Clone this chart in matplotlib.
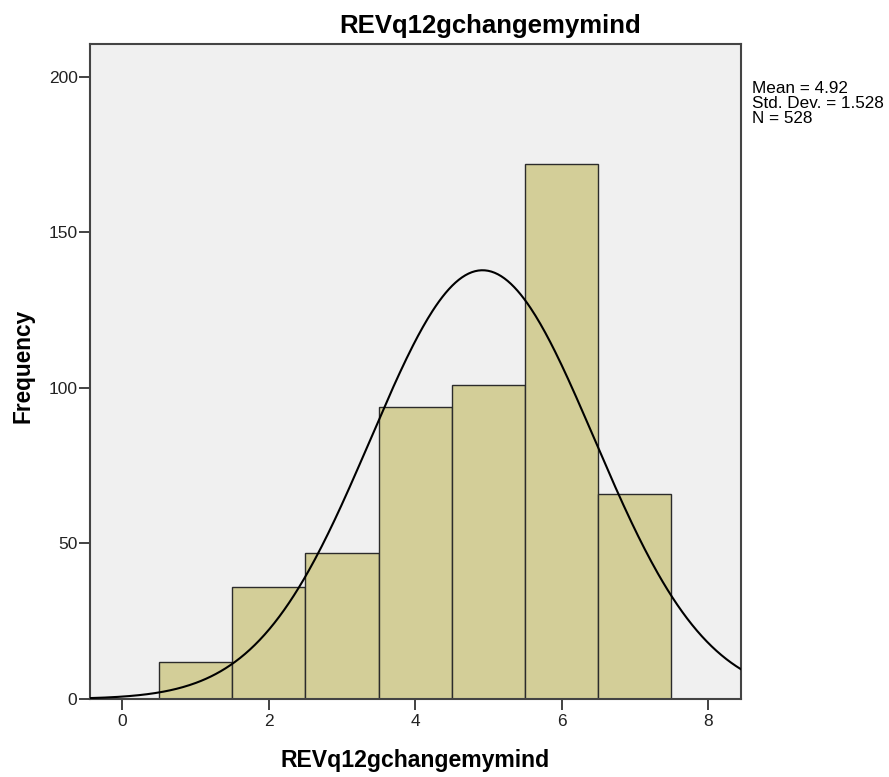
import numpy as np
import matplotlib
matplotlib.use("Agg")
import matplotlib.pyplot as plt

plt.rcParams['font.family'] = ['Liberation Sans', 'DejaVu Sans']

values = [1, 2, 3, 4, 5, 6, 7]
counts = [12, 36, 47, 94, 101, 172, 66]
mean = 4.92
std = 1.528
n = 528
xticks = [0, 2, 4, 6, 8]
yticks = [0, 50, 100, 150, 200]
stats_lines = ['Mean = 4.92', 'Std. Dev. = 1.528', 'N = 528']

W, H = 889, 777
fig = plt.figure(figsize=(W / 100, H / 100), dpi=100)
ax = fig.add_axes([90 / W, 1 - 699 / H, (741 - 90) / W, (699 - 44) / H])
ax.set_facecolor('#F0F0F0')

ax.bar(values, counts, width=1.0, color='#D3CE98', edgecolor='#2b2b2b', linewidth=1.0, zorder=2)

xs = np.linspace(-0.44, 8.45, 400)
ys = n * 1.0 / (std * np.sqrt(2 * np.pi)) * np.exp(-0.5 * ((xs - mean) / std) ** 2)
ax.plot(xs, ys, color='black', linewidth=1.5, zorder=3)

ax.set_xlim(-0.44, 8.45)
ax.set_ylim(0, 210.6)
ax.set_xticks(xticks)
ax.set_yticks(yticks)
ax.tick_params(direction='out', length=8, width=1.2, labelsize=12.5, colors='#222222')
ax.tick_params(axis='x', pad=3)
ax.tick_params(axis='y', pad=1)
for s in ax.spines.values():
    s.set_color('#444444')
    s.set_linewidth(1.5)

fig.text(490 / W, 1 - 33 / H, 'REVq12gchangemymind', fontsize=18.5, fontweight='bold',
         ha='center', va='baseline')
fig.text(415 / W, 1 - 767 / H, 'REVq12gchangemymind', fontsize=16.6, fontweight='bold',
         ha='center', va='baseline')
fig.text(29 / W, 1 - 366 / H, 'Frequency', fontsize=16.3, fontweight='bold',
         ha='center', va='baseline', rotation=90, rotation_mode='anchor')

fig.text(752 / W, 1 - 81 / H, '\n'.join(stats_lines), fontsize=12.3,
         ha='left', va='top', linespacing=1.02)

fig.savefig('out.png', dpi=100)
